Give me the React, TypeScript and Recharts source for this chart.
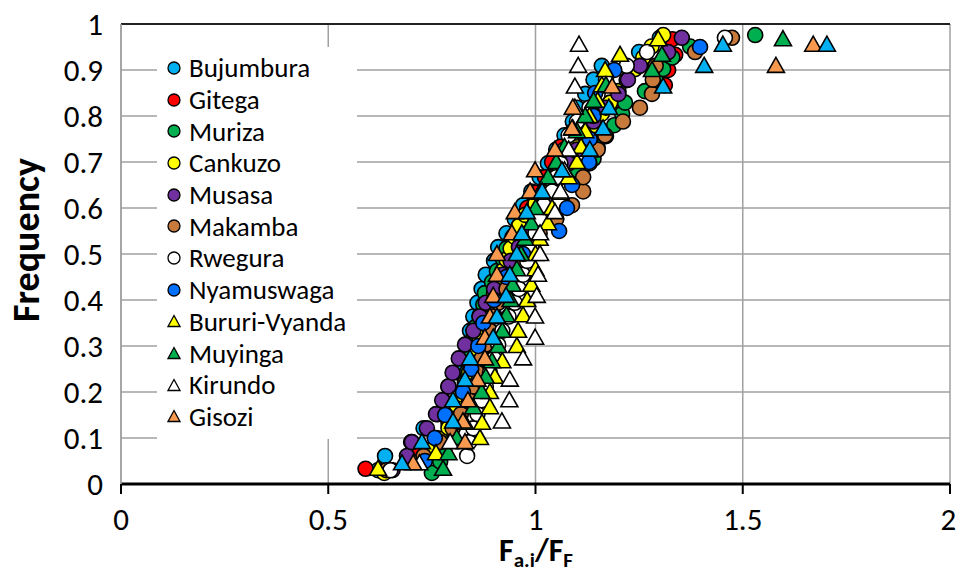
import React from 'react';
import {
  ScatterChart, Scatter, XAxis, YAxis, CartesianGrid, Legend, ReferenceLine,
} from 'recharts';

// frequency steps (rank / (n + 1))
const F19 = [0.05, 0.1, 0.15, 0.2, 0.25, 0.3, 0.35, 0.4, 0.45, 0.5, 0.55, 0.6, 0.65, 0.7, 0.75, 0.8, 0.85, 0.9, 0.95];
const F21 = [0.045, 0.091, 0.136, 0.182, 0.227, 0.273, 0.318, 0.364, 0.409, 0.455, 0.5, 0.545, 0.591, 0.636, 0.682, 0.727, 0.773, 0.818, 0.864, 0.909, 0.955];
const F21B = [0.045, 0.091, 0.136, 0.182, 0.227, 0.273, 0.318, 0.364, 0.409, 0.455, 0.5, 0.545, 0.591, 0.636, 0.682, 0.727, 0.773, 0.818, 0.864, 0.909, 0.955, 0.955];
const F29 = [0.033, 0.067, 0.1, 0.133, 0.167, 0.2, 0.233, 0.267, 0.3, 0.333, 0.367, 0.4, 0.433, 0.467, 0.5, 0.533, 0.567, 0.6, 0.633, 0.667, 0.7, 0.733, 0.767, 0.8, 0.833, 0.867, 0.9, 0.933, 0.967];
const F32 = [0.03, 0.061, 0.091, 0.121, 0.152, 0.182, 0.212, 0.242, 0.273, 0.303, 0.333, 0.364, 0.394, 0.424, 0.455, 0.485, 0.515, 0.545, 0.576, 0.606, 0.636, 0.667, 0.697, 0.727, 0.758, 0.788, 0.818, 0.848, 0.879, 0.909, 0.939, 0.97];
const F40 = [0.024, 0.049, 0.073, 0.098, 0.122, 0.146, 0.171, 0.195, 0.22, 0.244, 0.268, 0.293, 0.317, 0.341, 0.366, 0.39, 0.415, 0.439, 0.463, 0.488, 0.512, 0.537, 0.561, 0.585, 0.61, 0.634, 0.659, 0.683, 0.707, 0.732, 0.756, 0.78, 0.805, 0.829, 0.854, 0.878, 0.902, 0.927, 0.951, 0.976];

// Fa,i / FF ratios per station
const bujumbura = [0.62, 0.637, 0.7, 0.73, 0.765, 0.777, 0.79, 0.813, 0.825, 0.835, 0.842, 0.85, 0.86, 0.87, 0.88, 0.9, 0.91, 0.93, 0.95, 0.97, 0.99, 1.01, 1.03, 1.05, 1.07, 1.09, 1.1, 1.12, 1.14, 1.16, 1.25, 1.3];
const gitega = [0.59, 0.72, 0.76, 0.79, 0.81, 0.83, 0.85, 0.86, 0.88, 0.89, 0.9, 0.91, 0.92, 0.93, 0.94, 0.95, 0.97, 0.98, 1.0, 1.023, 1.04, 1.06, 1.09, 1.13, 1.2, 1.312, 1.32, 1.337, 1.33];
const muriza = [0.75, 0.77, 0.78, 0.79, 0.8, 0.81, 0.815, 0.82, 0.83, 0.835, 0.84, 0.842, 0.85, 0.855, 0.865, 0.874, 0.878, 0.895, 0.907, 0.922, 0.93, 0.945, 0.96, 0.98, 1.0, 1.02, 1.05, 1.1, 1.14, 1.15, 1.17, 1.19, 1.209, 1.216, 1.264, 1.29, 1.308, 1.33, 1.373, 1.53];
const cankuzo = [0.635, 0.7, 0.74, 0.77, 0.79, 0.8, 0.81, 0.82, 0.83, 0.84, 0.85, 0.86, 0.865, 0.875, 0.885, 0.89, 0.9, 0.91, 0.92, 0.93, 0.94, 0.95, 0.96, 0.975, 1.0, 1.02, 1.04, 1.06, 1.08, 1.1, 1.12, 1.14, 1.16, 1.18, 1.2, 1.22, 1.24, 1.26, 1.28, 1.308];
const musasa = [0.655, 0.69, 0.702, 0.738, 0.76, 0.775, 0.79, 0.8, 0.815, 0.83, 0.85, 0.865, 0.88, 0.9, 0.92, 0.94, 0.96, 0.98, 1.0, 1.02, 1.04, 1.06, 1.08, 1.1, 1.12, 1.14, 1.17, 1.2, 1.223, 1.252, 1.32, 1.353];
const makamba = [0.64, 0.73, 0.77, 0.8, 0.82, 0.84, 0.85, 0.86, 0.87, 0.88, 0.89, 0.9, 0.91, 0.93, 0.95, 0.97, 0.99, 1.01, 1.05, 1.088, 1.115, 1.115, 1.13, 1.15, 1.168, 1.211, 1.252, 1.281, 1.283, 1.29, 1.385, 1.474];
const rwegura = [0.65, 0.835, 0.84, 0.85, 0.86, 0.87, 0.88, 0.89, 0.9, 0.91, 0.92, 0.935, 0.95, 0.96, 0.97, 0.98, 0.99, 1.0, 1.01, 1.02, 1.04, 1.05, 1.06, 1.07, 1.08, 1.1, 1.13, 1.15, 1.17, 1.22, 1.269, 1.457];
const nyamuswaga = [0.733, 0.757, 0.782, 0.825, 0.845, 0.862, 0.874, 0.9, 0.93, 0.97, 1.057, 1.076, 1.088, 1.129, 1.131, 1.14, 1.144, 1.19, 1.397];
const bururi = [0.62, 0.76, 0.866, 0.871, 0.89, 0.89, 0.902, 0.92, 0.955, 0.958, 0.97, 0.98, 0.99, 1.0, 1.0, 1.01, 1.03, 1.04, 1.06, 1.08, 1.1, 1.11, 1.12, 1.13, 1.15, 1.16, 1.168, 1.204, 1.296];
const muyinga = [0.777, 0.79, 0.81, 0.83, 0.85, 0.87, 0.88, 0.895, 0.91, 0.92, 0.93, 0.94, 0.945, 0.955, 0.965, 0.975, 0.99, 1.0, 1.01, 1.03, 1.05, 1.07, 1.1, 1.12, 1.14, 1.17, 1.281, 1.305, 1.597];
const kirundo = [0.72, 0.794, 0.919, 0.937, 0.938, 0.97, 0.999, 0.999, 1.003, 1.006, 1.011, 1.011, 1.047, 1.06, 1.07, 1.08, 1.09, 1.095, 1.095, 1.103, 1.105];
const gisozi = [0.705, 0.83, 0.825, 0.837, 0.86, 0.878, 0.878, 0.89, 0.898, 0.907, 0.907, 0.943, 0.95, 0.987, 0.999, 1.047, 1.088, 1.09, 1.185, 1.58, 1.67];
// light blue triangles, no legend entry in the original
const extra = [0.678, 0.726, 0.801, 0.801, 0.83, 0.842, 0.898, 0.907, 0.929, 0.938, 0.955, 0.967, 0.979, 1.016, 1.064, 1.131, 1.163, 1.177, 1.308, 1.407, 1.452, 1.703];

const xTicks = [0, 0.5, 1, 1.5, 2];
const yTicks = [0, 0.1, 0.2, 0.3, 0.4, 0.5, 0.6, 0.7, 0.8, 0.9, 1];

const FONT = "Carlito, 'Liberation Sans Narrow', 'Liberation Sans', sans-serif";

const series = [
  { name: 'Bujumbura', xs: bujumbura, ys: F32, fill: '#00B0F0', kind: 'circle' },
  { name: 'Gitega', xs: gitega, ys: F29, fill: '#FF0000', kind: 'circle' },
  { name: 'Muriza', xs: muriza, ys: F40, fill: '#00B050', kind: 'circle' },
  { name: 'Cankuzo', xs: cankuzo, ys: F40, fill: '#FFFF00', kind: 'circle' },
  { name: 'Musasa', xs: musasa, ys: F32, fill: '#7030A0', kind: 'circle' },
  { name: 'Makamba', xs: makamba, ys: F32, fill: '#C87A3C', kind: 'circle' },
  { name: 'Rwegura', xs: rwegura, ys: F32, fill: '#FFFFFF', kind: 'circle' },
  { name: 'Nyamuswaga', xs: nyamuswaga, ys: F19, fill: '#0070FF', kind: 'circle' },
  { name: 'Bururi-Vyanda', xs: bururi, ys: F29, fill: '#FFFF00', kind: 'triangle' },
  { name: 'Muyinga', xs: muyinga, ys: F29, fill: '#00B050', kind: 'triangle' },
  { name: 'Kirundo', xs: kirundo, ys: F21, fill: '#FFFFFF', kind: 'triangle' },
  { name: 'Gisozi', xs: gisozi, ys: F21, fill: '#F79A50', kind: 'triangle' },
  { name: 'Other', xs: extra, ys: F21B, fill: '#00B0F0', kind: 'triangle', hidden: true },
];

function marker(kind: string, fill: string) {
  return (props: any) => {
    const { cx, cy } = props;
    if (cx == null || cy == null) return <g />;
    if (kind === 'circle') {
      return <circle cx={cx} cy={cy} r={7.5} fill={fill} stroke="#000" strokeWidth={1.6} />;
    }
    return (
      <polygon
        points={`${cx},${cy - 8.5} ${cx + 8.5},${cy + 6.5} ${cx - 8.5},${cy + 6.5}`}
        fill={fill} stroke="#000" strokeWidth={1.6} strokeLinejoin="miter"
      />
    );
  };
}

function LegendBox() {
  return (
    <div style={{ background: '#fff', width: 200, height: 392, paddingTop: 5, boxSizing: 'border-box', fontFamily: FONT }}>
      {series.filter((s) => !s.hidden).map((s) => (
        <div key={s.name} style={{ display: 'flex', alignItems: 'center', height: 31.7, paddingLeft: 10 }}>
          <svg width={14} height={14} style={{ flex: 'none' }}>
            {s.kind === 'circle'
              ? <circle cx={7} cy={7} r={6} fill={s.fill} stroke="#000" strokeWidth={1.3} />
              : <polygon points="7,1.5 13,12.5 1,12.5" fill={s.fill} stroke="#000" strokeWidth={1.3} />}
          </svg>
          <span style={{ marginLeft: 8, fontSize: 27, color: '#000', lineHeight: 1, whiteSpace: 'nowrap' }}>{s.name}</span>
        </div>
      ))}
    </div>
  );
}

export default function App() {
  return (
    <div style={{ position: 'absolute', left: 0, top: 0, width: 956, height: 577, background: '#fff' }}>
      <ScatterChart width={956} height={577} margin={{ top: 24, right: 6, left: 51, bottom: 53 }}>
        <CartesianGrid stroke="#A0A0A0" strokeWidth={1.5} horizontalValues={yTicks} verticalValues={xTicks} />
        <XAxis
          type="number" dataKey="x" domain={[0, 2]} ticks={xTicks} height={40}
          axisLine={{ stroke: '#000', strokeWidth: 3 }} tickLine={{ stroke: '#000', strokeWidth: 2 }}
          tickSize={10} tickMargin={14}
          tick={{ fill: '#000', fontSize: 31, fontFamily: FONT }}
          label={{
            content: () => (
              <text x={536} y={561} textAnchor="middle" fontFamily={FONT} fontWeight="bold" fontSize={32} fill="#000">
                F<tspan fontSize={21} dy={6}>a.i</tspan><tspan fontSize={32} dy={-6}>/F</tspan><tspan fontSize={21} dy={6}>F</tspan>
              </text>
            ),
          }}
        />
        <YAxis
          type="number" dataKey="y" domain={[0, 1]} ticks={yTicks} width={70}
          axisLine={{ stroke: '#A0A0A0', strokeWidth: 1.5 }} tickLine={false}
          tickSize={6} tickMargin={12}
          tick={{ fill: '#000', fontSize: 31, fontFamily: FONT }}
          label={{
            content: () => (
              <text x={26} y={240} transform="rotate(-90, 26, 240)" textAnchor="middle" dominantBaseline="central"
                fontFamily={FONT} fontWeight="bold" fontSize={38} fill="#000">Frequency</text>
            ),
          }}
        />
        <ReferenceLine y={1} stroke="#222" strokeWidth={2} />
        <Legend
          layout="vertical" align="center" verticalAlign="middle"
          wrapperStyle={{ left: 157, top: 47, width: 200, height: 392 }}
          content={() => <LegendBox />}
        />
        {series.map((s) => (
          <Scatter
            key={s.name}
            name={s.name}
            data={s.xs.map((x, i) => ({ x, y: s.ys[i] }))}
            fill={s.fill}
            shape={marker(s.kind, s.fill)}
            legendType={s.hidden ? 'none' : 'circle'}
            isAnimationActive={false}
          />
        ))}
      </ScatterChart>
    </div>
  );
}
